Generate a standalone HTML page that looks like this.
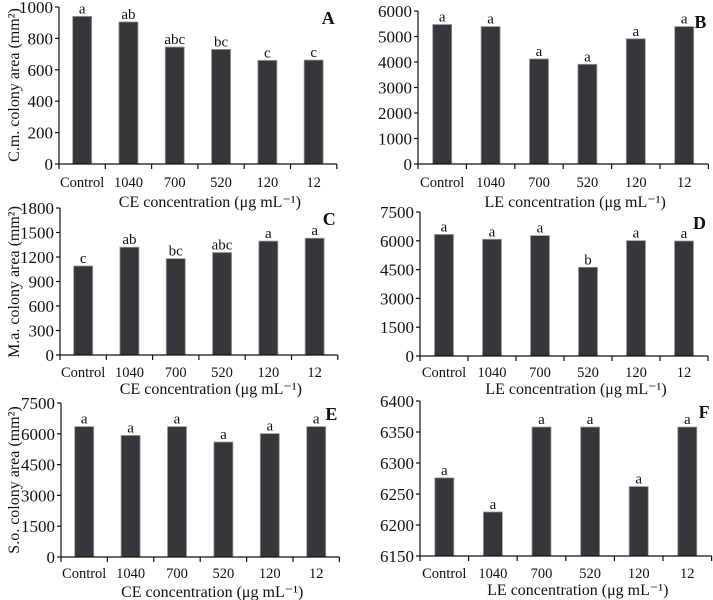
<!DOCTYPE html>
<html><head><meta charset="utf-8"><style>
html,body{margin:0;padding:0;background:#fff;}
svg{display:block;font-family:"Liberation Serif",serif;}
</style></head><body>
<svg id="fig" width="713" height="600" viewBox="0 0 713 600"></svg>
<script>
const categories = ["Control","1040","700","520","120","12"];
const valuesA = [940,905,745,730,660,662];
const lettersA = ["a","ab","abc","bc","c","c"];
const ticksA = [0,200,400,600,800,1000];
const valuesB = [5470,5390,4120,3910,4910,5390];
const lettersB = ["a","a","a","a","a","a"];
const ticksB = [0,1000,2000,3000,4000,5000,6000];
const valuesC = [1090,1320,1180,1255,1395,1430];
const lettersC = ["c","ab","bc","abc","a","a"];
const ticksC = [0,300,600,900,1200,1500,1800];
const valuesD = [6330,6080,6270,4620,6010,5990];
const lettersD = ["a","a","a","b","a","a"];
const ticksD = [0,1500,3000,4500,6000,7500];
const valuesE = [6350,5920,6350,5600,6010,6350];
const lettersE = ["a","a","a","a","a","a"];
const ticksE = [0,1500,3000,4500,6000,7500];
const valuesF = [6276,6221,6358,6358,6262,6358];
const lettersF = ["a","a","a","a","a","a"];
const ticksF = [6150,6200,6250,6300,6350,6400];

const NS="http://www.w3.org/2000/svg";
const svg=document.getElementById("fig");
function mk(tag,attrs,parent){const e=document.createElementNS(NS,tag);for(const k in attrs)e.setAttribute(k,attrs[k]);(parent||svg).appendChild(e);return e;}

const BAR_FILL="#35373a";
const INK="#111";

const panels=[
 {id:"A",vals:valuesA,lets:lettersA,ticks:ticksA,x0:59,step:46.3,top:7,bot:164,lab:187,title:207,ytitle:"C.m. colony area (mm²)",xt:"CE concentration (μg mL⁻¹)",yt:85},
 {id:"B",vals:valuesB,lets:lettersB,ticks:ticksB,x0:418,step:48.4,top:11,bot:164,lab:187,title:207,ytitle:null,xt:"LE concentration (μg mL⁻¹)"},
 {id:"C",vals:valuesC,lets:lettersC,ticks:ticksC,x0:60,step:46.3,top:208,bot:355,lab:377,title:394,ytitle:"M.a. colony area  (mm²)",xt:"CE concentration (μg mL⁻¹)",yt:282},
 {id:"D",vals:valuesD,lets:lettersD,ticks:ticksD,x0:420,step:48,top:212,bot:356,lab:377,title:394,ytitle:null,xt:"LE concentration (μg mL⁻¹)"},
 {id:"E",vals:valuesE,lets:lettersE,ticks:ticksE,x0:61,step:46.4,top:403,bot:557,lab:578,title:597,ytitle:"S.o. colony area (mm²)",xt:"CE concentration  (μg mL⁻¹)",yt:480},
 {id:"F",vals:valuesF,lets:lettersF,ticks:ticksF,x0:420,step:48.6,top:401,bot:556,lab:578,title:595,ytitle:null,xt:"LE concentration (μg mL⁻¹)"}
];

panels.forEach(p=>{
  const g=mk("g",{});
  
  
  const tmin=p.ticks[0], tmax=p.ticks[p.ticks.length-1];
  const y=v=>p.bot-(v-tmin)/(tmax-tmin)*(p.bot-p.top);
  const x=i=>p.x0+p.step*(i+0.5);
  const x1=p.x0+p.step*categories.length;
  const bw=19;
  p.vals.forEach((v,i)=>{
    const r=mk("rect",{x:x(i)-bw/2,y:y(v),width:bw,height:p.bot-y(v),fill:BAR_FILL,stroke:"#9a9a9a","stroke-width":0.8},g);
    
    
    const t=mk("text",{x:x(i),y:y(v)-3,"text-anchor":"middle","font-size":15,fill:INK},g);
    t.textContent=p.lets[i];
    
    
    const c=mk("text",{x:x(i),y:p.lab,"text-anchor":"middle","font-size":14.5,fill:INK},g);
    c.textContent=categories[i];
    
    
  });
  mk("line",{x1:p.x0,y1:p.top,x2:p.x0,y2:p.bot,stroke:INK,"stroke-width":1.2},g);
  mk("line",{x1:p.x0,y1:p.bot,x2:x1,y2:p.bot,stroke:INK,"stroke-width":1.2},g);
  for(let i=0;i<=categories.length;i++){
    mk("line",{x1:p.x0+p.step*i,y1:p.bot,x2:p.x0+p.step*i,y2:p.bot+5,stroke:INK,"stroke-width":1.2},g);
  }
  p.ticks.forEach(tv=>{
    mk("line",{x1:p.x0-4,y1:y(tv),x2:p.x0,y2:y(tv),stroke:INK,"stroke-width":1.2},g);
    const t=mk("text",{x:p.x0-6,y:y(tv)+6,"text-anchor":"end","font-size":17,fill:INK},g);
    t.textContent=tv;
    
    
  });
  const xt=mk("text",{x:(p.x0+x1)/2+12,y:p.title,"text-anchor":"middle","font-size":16,fill:INK},g);
  xt.textContent=p.xt;
  
  
  if(p.ytitle){
    const yt=mk("text",{x:0,y:0,"text-anchor":"middle","font-size":16,fill:INK,transform:"translate(19,"+p.yt+") rotate(-90)"},g);
    yt.textContent=p.ytitle;
    
    
  }
  const L=mk("text",{x:x1-2,y:p.top+17,"text-anchor":"end","font-size":18,"font-weight":"bold",fill:INK},g);
  L.textContent=p.id;
  
  
});
</script>
</body></html>
